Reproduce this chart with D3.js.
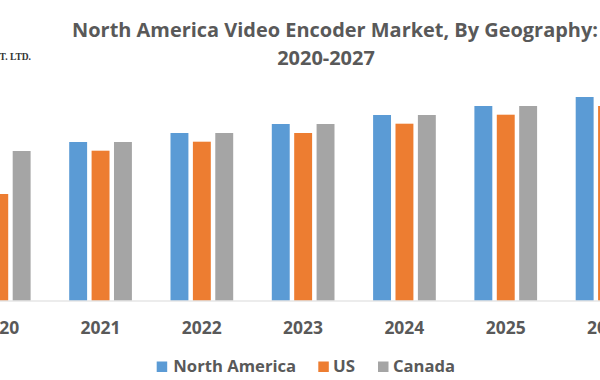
<!DOCTYPE html>
<html><head><meta charset="utf-8">
<script src="https://cdn.jsdelivr.net/npm/d3@7"></script>
<style>html,body{margin:0;padding:0;background:#fff;overflow:hidden}</style>
</head><body>
<svg id="c" width="600" height="380"></svg>
<script>
const years = ["2020","2021","2022","2023","2024","2025","2026","2027"];
const seriesNames = ["North America","US","Canada"];
const northAmerica = [1495,1585,1675,1765,1855,1945,2035,2125];
const us = [1065,1498,1588,1675,1768,1858,1945,2035];
const canada = [1495,1585,1675,1765,1855,1945,2035,2125];
const colors = ["#5B9BD5","#ED7D31","#A5A5A5"];
const titleLines = ["North America Video Encoder Market, By Geography:","2020-2027"];

const svg = d3.select("#c");
const baseline = 300.5;
const font = "'Open Sans', Lato, sans-serif";
const textColor = "#595959";

// grow/shrink a text's font size so its width matches a target; returns the size
function fit(sel, target, base){
  const w = sel.node().getComputedTextLength();
  const s = w > 0 ? base * target / w : base;
  sel.attr("font-size", s.toFixed(2) + "px");
  return s;
}

const x0 = d3.scaleBand().domain(years).range([-51.5, -51.5 + 8*101.3]).padding(0);
const x1 = d3.scaleBand().domain(seriesNames).range([19.4, 82.1]).paddingInner(0.2).paddingOuter(0);
const y = d3.scaleLinear().domain([0, 2500]).range([baseline, baseline - 250]);

const data = years.map((yr,i)=>({year:yr, vals:[northAmerica[i], us[i], canada[i]]}));

// bars
const g = svg.append("g");
const groups = g.selectAll("g.grp").data(data).join("g").attr("class","grp")
  .attr("transform", d=>`translate(${x0(d.year)},0)`);
groups.selectAll("rect").data(d=>d.vals.map((v,k)=>({name:seriesNames[k], v, k})))
  .join("rect")
  .attr("x", d=>x1(d.name))
  .attr("width", x1.bandwidth())
  .attr("y", d=>y(d.v))
  .attr("height", d=>baseline - y(d.v))
  .attr("fill", d=>colors[d.k]);

// axis
const ax = svg.append("g").attr("transform",`translate(0,${baseline})`)
  .call(d3.axisBottom(x0).tickSize(0).tickPadding(0));
ax.select(".domain").attr("stroke","#d9d9d9").attr("stroke-width",1.2)
  .attr("d","M-60,0.5H700");
ax.selectAll("text").attr("font-family",font).attr("font-weight","bold")
  .attr("font-size","17px").attr("fill",textColor).attr("dy",null).attr("y",33.5)
  .each(function(){ fit(d3.select(this), 40, 17); });

// title
const t1 = svg.append("text").attr("x",335).attr("y",37).attr("text-anchor","middle")
  .attr("font-family",font).attr("font-weight","bold").attr("font-size","20px")
  .attr("fill",textColor).text(titleLines[0]);
const ts = fit(t1, 526, 20);
svg.append("text").attr("x",326).attr("y",65).attr("text-anchor","middle")
  .attr("font-family",font).attr("font-weight","bold").attr("font-size",ts.toFixed(2)+"px")
  .attr("fill",textColor).text(titleLines[1]);

// watermark fragment
svg.append("text").attr("x",31).attr("y",60).attr("text-anchor","end")
  .attr("font-family","'Liberation Serif', serif").attr("font-weight","bold")
  .attr("font-size","9.5px").attr("fill","#333").text("PVT. LTD.");

// legend
const legendX = [156.7, 318.3, 378];
const legendTextX = [173.3, 333, 393];
const legendW = [123, 22, 62];
const lg = svg.append("g");
seriesNames.forEach((n,k)=>{
  lg.append("rect").attr("x",legendX[k]).attr("y",361.5).attr("width",10.5).attr("height",10.5).attr("fill",colors[k]);
  const t = lg.append("text").attr("x",legendTextX[k]).attr("y",371.7)
    .attr("font-family",font).attr("font-weight","bold").attr("font-size","15px")
    .attr("fill",textColor).text(n);
  fit(t, legendW[k], 15);
});
</script>
</body></html>
